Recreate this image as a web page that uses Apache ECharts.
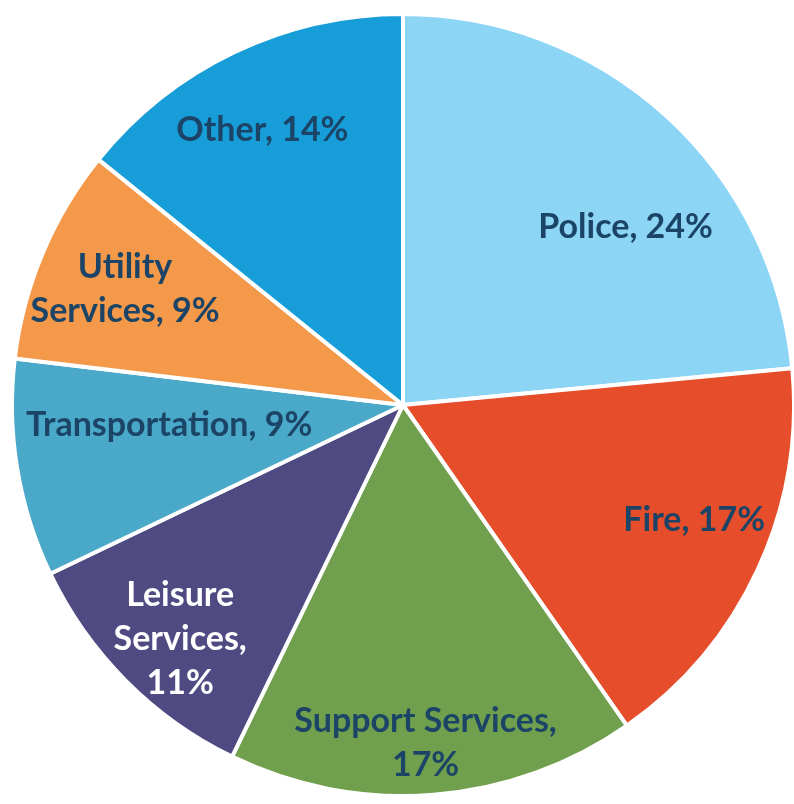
<!DOCTYPE html>
<html>
<head>
<meta charset="utf-8">
<script src="https://cdn.jsdelivr.net/npm/echarts@6/dist/echarts.min.js"></script>
<style>html,body{margin:0;padding:0;background:#fff;}#c{width:794px;height:804px;}</style>
</head>
<body>
<div id="c"></div>
<script>
const categories = ['Police', 'Fire', 'Support Services', 'Leisure Services', 'Transportation', 'Utility Services', 'Other'];
const shares = [23.5, 16.8, 16.9, 10.7, 9.0, 8.9, 14.2];
const labelTexts = ['Police, 24%', 'Fire, 17%', 'Support Services,\n17%', 'Leisure\nServices,\n11%', 'Transportation, 9%', 'Utility\nServices, 9%', 'Other, 14%'];
const colors = ['#8dd5f5', '#e64d2a', '#70a04e', '#504a82', '#4aa8c8', '#f4994a', '#179ed8'];
const labelColors = ['#1b4466', '#1b4466', '#1b4466', '#ffffff', '#1b4466', '#1b4466', '#1b4466'];
const labelOffsets = [[89, -31], [111, 32], [7, 140], [-82, 94], [-38, -12], [-95, -39], [-55, -96]];

const chart = echarts.init(document.getElementById('c'), null, {renderer: 'canvas'});
chart.setOption({
  backgroundColor: '#ffffff',
  animation: false,
  series: [{
    type: 'pie',
    center: [403, 405],
    radius: [0, 391],
    startAngle: 90,
    clockwise: true,
    label: {
      show: true,
      position: 'inside',
      fontFamily: 'Lato',
      fontWeight: 'bold',
      fontSize: 34,
      lineHeight: 44
    },
    labelLine: {show: false},
    itemStyle: {borderColor: '#ffffff', borderWidth: 4},
    data: categories.map((name, i) => ({
      name: name,
      value: shares[i],
      itemStyle: {color: colors[i]},
      label: {formatter: labelTexts[i], color: labelColors[i], offset: labelOffsets[i]}
    }))
  }]
});
</script>
</body>
</html>
